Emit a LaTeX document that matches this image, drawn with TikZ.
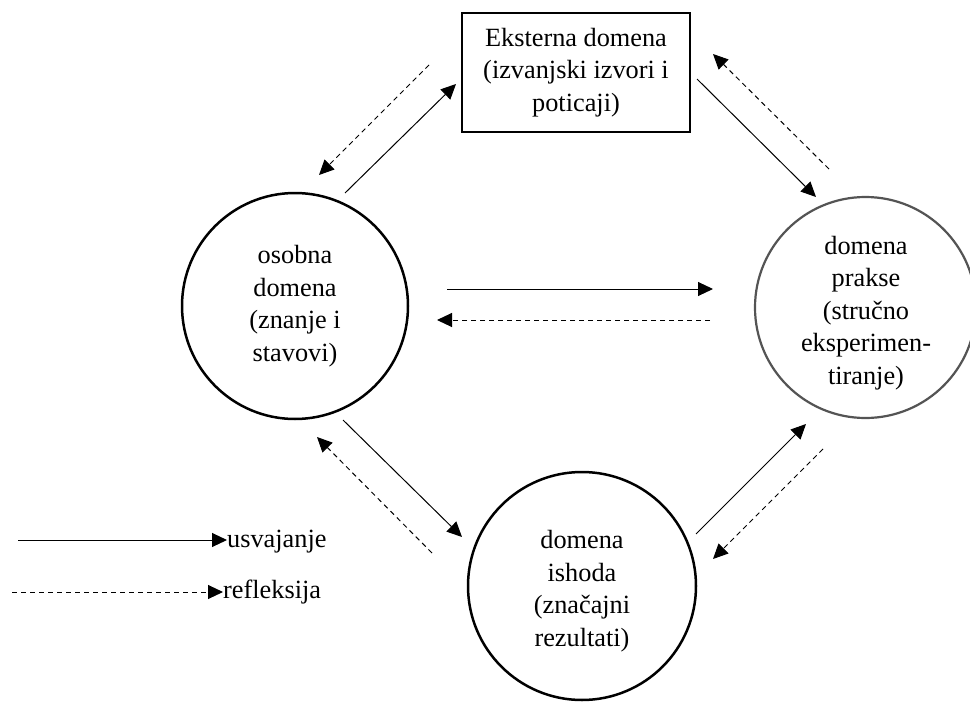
\documentclass[tikz,border=0pt]{standalone}
\usepackage{fontspec}
\setmainfont{Liberation Serif}
\usetikzlibrary{arrows.meta}
\begin{document}
\begin{tikzpicture}[x=1pt,y=-1pt,
  dom/.style={circle,draw,line width=2.5pt,inner sep=0pt},
  lbl/.style={align=center,font=\fontsize{26.3}{32.5}\selectfont,inner sep=0pt},
  leg/.style={font=\fontsize{26.3}{32.5}\selectfont,inner sep=0pt,anchor=base west},
  adopt/.style={line width=1pt,-{Triangle[length=15pt,width=14pt]}},
  reflect/.style={line width=1pt,dash pattern=on 5pt off 4pt,-{Triangle[length=15pt,width=14pt]}},
]
\useasboundingbox (0,0) rectangle (970,704);
\clip (0,0) rectangle (970,704);
\fill[white] (0,0) rectangle (970,704);

% domains
\node[draw,line width=2.5pt,minimum width=228pt,minimum height=119pt,lbl] (ext) at (576,72.5)
  {Eksterna domena\\(izvanjski izvori i\\poticaji)};
\node[dom,minimum size=226pt] (osobna) at (295,306) {};
\node[lbl] (osobnatext) at (295,306) {osobna\\domena\\(znanje i\\stavovi)};
\node[dom,draw=black!67,line width=2.2pt,minimum size=221pt] (prakse) at (865.5,307.5) {};
\node[lbl] (praksetext) at (866,313) {domena\\prakse\\(stručno\\eksperimen-\\tiranje)};
\node[dom,minimum size=228pt] (ishoda) at (582,586) {};
\node[lbl] (ishodatext) at (582,591) {domena\\ishoda\\(značajni\\rezultati)};

% connector end points
\coordinate (a1s) at (345,193); \coordinate (a1e) at (456,84);
\coordinate (b1s) at (429,65);  \coordinate (b1e) at (319,175);
\coordinate (a2s) at (697,79);  \coordinate (a2e) at (816,197);
\coordinate (b2s) at (829,169); \coordinate (b2e) at (713,54);
\coordinate (a3s) at (447,289); \coordinate (a3e) at (713,289);
\coordinate (b3s) at (710,320); \coordinate (b3e) at (437,320);
\coordinate (a4s) at (343,420); \coordinate (a4e) at (462,537);
\coordinate (b4s) at (432,553); \coordinate (b4e) at (317,437);
\coordinate (a5s) at (696,534); \coordinate (a5e) at (806,424);
\coordinate (b5s) at (823,449); \coordinate (b5e) at (713,559);

\draw[adopt] (a1s) -- (a1e);
\draw[reflect] (b1s) -- (b1e);
\draw[adopt] (a2s) -- (a2e);
\draw[reflect] (b2s) -- (b2e);
\draw[adopt] (a3s) -- (a3e);
\draw[reflect] (b3s) -- (b3e);
\draw[adopt] (a4s) -- (a4e);
\draw[reflect] (b4s) -- (b4e);
\draw[adopt] (a5s) -- (a5e);
\draw[reflect] (b5s) -- (b5e);

% legend
\coordinate (l1s) at (18,540); \coordinate (l1e) at (227,540);
\coordinate (l2s) at (12,592); \coordinate (l2e) at (223,592);
\draw[adopt] (l1s) -- (l1e);
\draw[reflect] (l2s) -- (l2e);
\node[leg] (usv) at (227,547) {usvajanje};
\node[leg] (ref) at (223,598) {refleksija};
\end{tikzpicture}
\end{document}
